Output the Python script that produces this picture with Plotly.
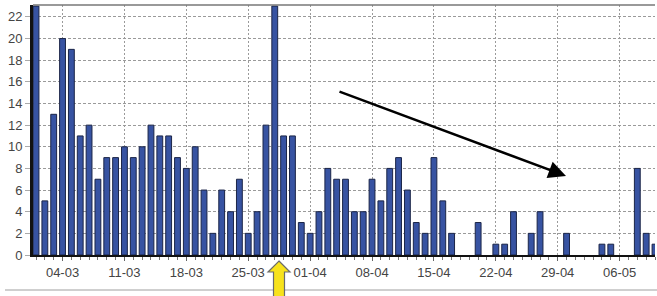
import plotly.graph_objects as go
import pandas as pd

# ---- data ----
start_date = "2008-03-01"
counts_march = [23, 5, 13, 20, 19, 11, 12, 7, 9, 9, 10, 9, 10, 12, 11, 11, 9, 8, 10, 6,
                2, 6, 4, 7, 2, 4, 12, 23, 11, 11, 3]
counts_april = [2, 4, 8, 7, 7, 4, 4, 7, 5, 8, 9, 6, 3, 2, 9, 5, 2, 0, 0, 3,
                0, 1, 1, 4, 0, 2, 4, 0, 0, 2]
counts_may = [0, 0, 0, 1, 1, 0, 0, 8, 2, 1]
tick_dates = ["2008-03-04", "2008-03-11", "2008-03-18", "2008-03-25", "2008-04-01",
              "2008-04-08", "2008-04-15", "2008-04-22", "2008-04-29", "2008-05-06"]
tick_labels = ["04-03", "11-03", "18-03", "25-03", "01-04", "08-04", "15-04", "22-04", "29-04", "06-05"]
y_ticks = list(range(0, 23, 2))

values = counts_march + counts_april + counts_may
dates = pd.date_range(start_date, periods=len(values), freq="D")

W, H = 657, 296
L, R, T, B = 33, 2, 5, 41
pw, ph = W - L - R, H - T - B


def px2paper(x, y):
    return (x - L) / pw, (H - B - y) / ph


fig = go.Figure()
fig.add_trace(go.Bar(
    x=dates, y=values,
    marker=dict(color="#3753a2",
                line=dict(color="#1b2547", width=[1 if v > 0 else 0 for v in values])),
    width=86400000 * 0.66,
))

fig.update_layout(
    width=W, height=H,
    margin=dict(l=L, r=R, t=T, b=B),
    paper_bgcolor="white", plot_bgcolor="white",
    showlegend=False,
    font=dict(family="Liberation Sans, Arial, sans-serif", size=13, color="#444"),
    bargap=0.3,
)
fig.update_xaxes(
    type="date", automargin=False,
    range=["2008-02-29 15:50", "2008-05-10 00:00"],
    tickvals=tick_dates, ticktext=tick_labels,
    ticks="outside", ticklen=4, tickcolor="#666",
    showgrid=True, gridcolor="#9a9a9a", griddash="2px,2px", gridwidth=1,
    showline=True, linecolor="#111", linewidth=2,
    minor=dict(dtick=86400000, ticks="outside", ticklen=3, tickcolor="#777", showgrid=False),
    zeroline=False,
)
fig.update_yaxes(
    automargin=False,
    range=[0, 23.1],
    tickvals=y_ticks,
    ticks="outside", ticklen=5, tickcolor="#aaa",
    showgrid=True, gridcolor="#9a9a9a", griddash="3px,2px", gridwidth=1,
    showline=True, linecolor="#111", linewidth=3,
    zeroline=False,
)

# top frame line
fig.add_shape(type="line", xref="paper", yref="paper", x0=0, x1=1, y0=1, y1=1,
              line=dict(color="#777", width=1.5))
# bottom separator line
x0p, yp = px2paper(5, 290)
fig.add_shape(type="line", xref="paper", yref="paper", x0=x0p, x1=1.01, y0=yp, y1=yp,
              line=dict(color="#cfcfcf", width=2))

# black trend arrow
tx, ty = px2paper(566, 176)
sx, sy = px2paper(338, 91)
fig.add_annotation(x=tx, y=ty, xref="x domain", yref="y domain",
                   ax=sx, ay=sy, axref="x domain", ayref="y domain",
                   showarrow=True, arrowhead=2, arrowsize=1.4, arrowwidth=2.5,
                   arrowcolor="black", text="")

# yellow up-arrow below the axis
pts = [(279, 261), (290, 272), (284.5, 272), (284.5, 300), (273.5, 300), (273.5, 272), (268, 272)]
path = "M " + " L ".join(f"{px2paper(x, y)[0]:.5f},{px2paper(x, y)[1]:.5f}" for x, y in pts) + " Z"
fig.add_shape(type="path", xref="paper", yref="paper", path=path,
              fillcolor="#f7e21c", line=dict(color="#6b6b6b", width=1.2), layer="above")

fig.write_html("out.html", config={"displayModeBar": False},
               post_script="document.body.style.margin='0';document.body.style.overflow='hidden';")
